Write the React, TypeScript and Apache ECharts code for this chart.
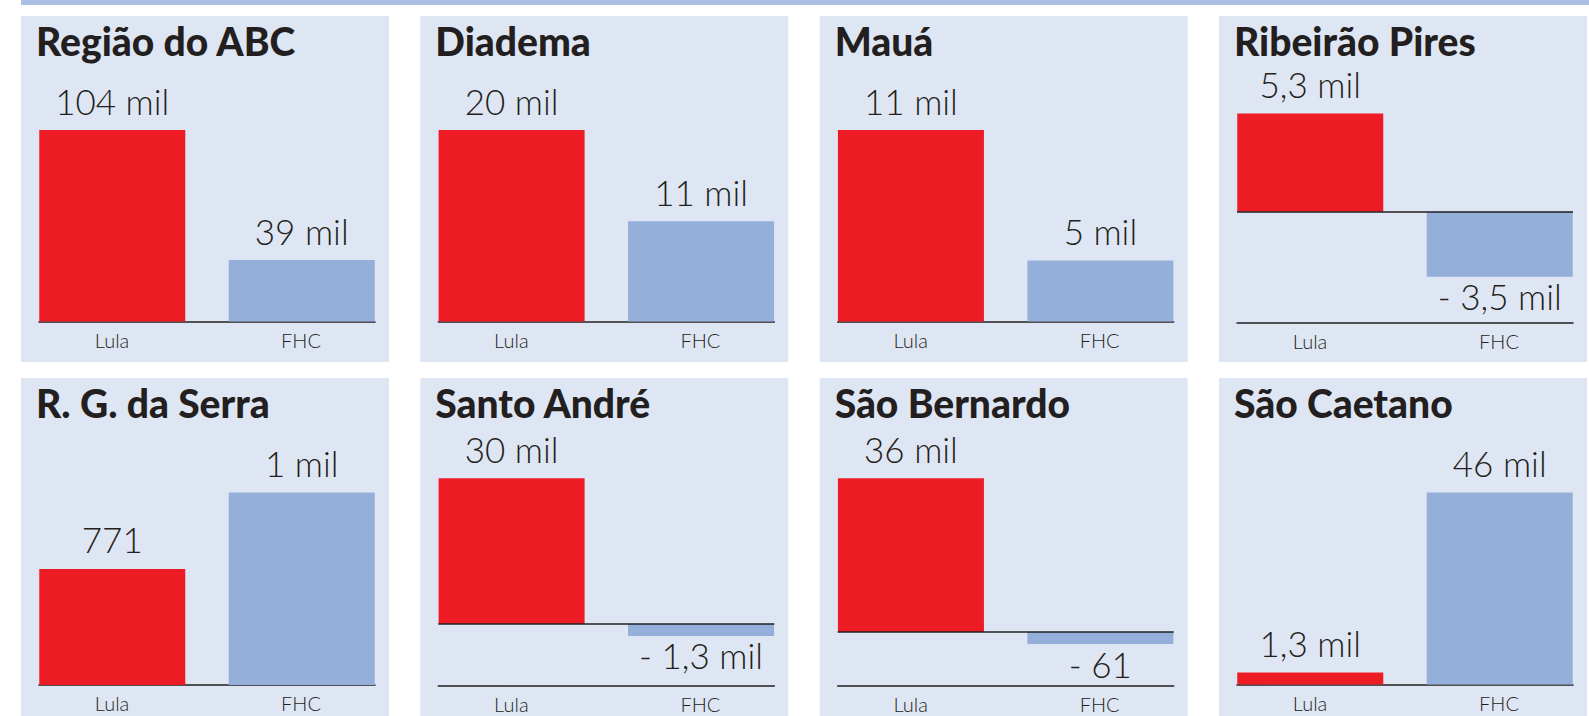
import React, { useEffect, useRef } from 'react';
import * as echarts from 'echarts';

// ---- data ----
const categories = ['Lula', 'FHC'];
const panelTitles = [
  'Região do ABC',
  'Diadema',
  'Mauá',
  'Ribeirão Pires',
  'R. G. da Serra',
  'Santo André',
  'São Bernardo',
  'São Caetano',
];
// votes per candidate (difference), as labelled in the picture
const lulaValues = [104000, 20000, 11000, 5300, 771, 30000, 36000, 1300];
const fhcValues = [39000, 11000, 5000, -3500, 1000, -1300, -61, 46000];

// ---- layout (positions / axis ranges, not data) ----
const W = 1589;
const H = 716;
const PANEL_W = 368;
const PANEL_PITCH = 399.33;
const PANEL_X0 = 21;
const ROW_Y = [16, 378];
const ROW_H = [346, 340];
// per panel: grid top, grid bottom (page px), y-axis min, y-axis max
const gridTops = [130, 130, 130, 113.5, 492.5, 478.3, 478.3, 492.5];
const gridBottoms = [321.5, 321.5, 321.5, 322.5, 685, 686, 686, 684.5];
const axisMins = [8250, 1110, 2195, -5970, 423.7, -12766, -12648, 0];
const axisMaxs = [104000, 20000, 11000, 5300, 1000, 30000, 36000, 46000];

const RED = '#ed1c24';
const BLUE = '#95afdb';
const PANEL_BG = '#dfe6f3';
const STRIP = '#aabfe3';
const INK = '#231f20';

function fmt(v: number): string {
  const a = Math.abs(v);
  let s: string;
  if (a >= 1000) {
    const k = a / 1000;
    s = (Number.isInteger(k) ? String(k) : k.toFixed(1).replace('.', ',')) + ' mil';
  } else {
    s = String(a);
  }
  return (v < 0 ? '- ' : '') + s;
}

export default function App() {
  const ref = useRef<HTMLDivElement>(null);

  useEffect(() => {
    document.body.style.margin = '0';
    if (!ref.current) return;
    const chart = echarts.init(ref.current, undefined, { renderer: 'svg' });

    const grids: any[] = [];
    const xAxes: any[] = [];
    const yAxes: any[] = [];
    const series: any[] = [];
    const titles: any[] = [];
    const graphics: any[] = [];

    graphics.push({
      type: 'rect',
      z: -10,
      shape: { x: PANEL_X0, y: 0, width: W - PANEL_X0, height: 5 },
      style: { fill: STRIP },
    });

    panelTitles.forEach((t, i) => {
      const col = i % 4;
      const row = Math.floor(i / 4);
      const px = PANEL_X0 + col * PANEL_PITCH;
      const py = ROW_Y[row];
      graphics.push({
        type: 'rect',
        z: -10,
        shape: { x: px, y: py, width: PANEL_W, height: ROW_H[row] },
        style: { fill: PANEL_BG },
      });
      titles.push({
        text: t,
        left: px + 15,
        top: py + 5,
        padding: 0,
        textStyle: {
          fontFamily: 'Lato',
          fontWeight: 900,
          fontSize: 39,
          color: INK,
        },
      });
      grids.push({
        left: px + 18,
        width: 336,
        top: gridTops[i],
        height: gridBottoms[i] - gridTops[i],
      });
      xAxes.push({
        type: 'category',
        gridIndex: i,
        data: categories,
        axisLine: { show: true, onZero: false, lineStyle: { color: INK, width: 1.5 } },
        axisTick: { show: false },
        axisLabel: {
          margin: 8,
          formatter: (v: string) => (v === categories[0] ? `{l|${v}}` : `{f|${v}}`),
          rich: {
            l: { padding: [0, 22, 0, 0], fontFamily: 'Lato', fontWeight: 300, fontSize: 20, color: INK },
            f: { padding: [0, 0, 0, 20], fontFamily: 'Lato', fontWeight: 300, fontSize: 20, color: INK },
          },
        },
      });
      yAxes.push({
        type: 'value',
        gridIndex: i,
        min: axisMins[i],
        max: axisMaxs[i],
        show: false,
        splitLine: { show: false },
      });
      const hasNeg = lulaValues[i] < 0 || fhcValues[i] < 0;
      const mkItem = (v: number) => ({
        value: v,
        label: { position: v < 0 ? 'bottom' : 'top', distance: v < 0 ? 2 : 12 },
      });
      const labelCfg = {
        show: true,
        formatter: (p: any) => fmt(p.value),
        fontFamily: 'Lato',
        fontWeight: 300,
        fontSize: 35,
        color: INK,
      };
      series.push({
        type: 'bar',
        name: 'Lula',
        xAxisIndex: i,
        yAxisIndex: i,
        barWidth: 146,
        barGap: '-85.3%',
        barMinHeight: 12,
        itemStyle: { color: RED },
        label: labelCfg,
        data: [mkItem(lulaValues[i]), '-'],
        markLine: hasNeg
          ? {
              silent: true,
              symbol: ['none', 'none'],
              label: { show: false },
              lineStyle: { color: INK, width: 1.5, type: 'solid' },
              data: [{ yAxis: 0 }],
            }
          : undefined,
      });
      series.push({
        type: 'bar',
        name: 'FHC',
        xAxisIndex: i,
        yAxisIndex: i,
        barWidth: 146,
        barGap: '-85.3%',
        barMinHeight: 12,
        itemStyle: { color: BLUE },
        label: labelCfg,
        data: ['-', mkItem(fhcValues[i])],
      });
    });

    chart.setOption({
      animation: false,
      backgroundColor: '#ffffff',
      title: titles,
      grid: grids,
      xAxis: xAxes,
      yAxis: yAxes,
      series,
      graphic: graphics,
    });

    return () => chart.dispose();
  }, []);

  return <div ref={ref} style={{ width: W, height: H }} />;
}
